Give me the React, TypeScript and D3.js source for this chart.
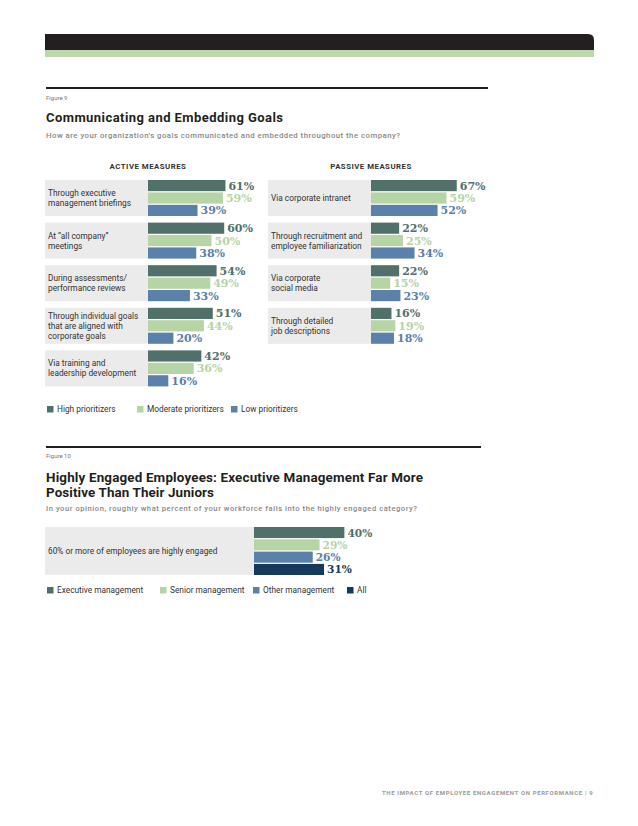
import React from "react";
import * as d3 from "d3";

const activeCategories = [
  ["Through executive", "management briefings"],
  ["At \u201call company\u201d", "meetings"],
  ["During assessments/", "performance reviews"],
  ["Through individual goals", "that are aligned with", "corporate goals"],
  ["Via training and", "leadership development"],
];
const activeHigh = [61, 60, 54, 51, 42];
const activeModerate = [59, 50, 49, 44, 36];
const activeLow = [39, 38, 33, 20, 16];

const passiveCategories = [
  ["Via corporate intranet"],
  ["Through recruitment and", "employee familiarization"],
  ["Via corporate", "social media"],
  ["Through detailed", "job descriptions"],
];
const passiveHigh = [67, 22, 22, 16];
const passiveModerate = [59, 25, 15, 19];
const passiveLow = [52, 34, 23, 18];

const fig9Series = ["High prioritizers", "Moderate prioritizers", "Low prioritizers"];
const fig10Series = ["Executive management", "Senior management", "Other management", "All"];
const fig10Category = "60% or more of employees are highly engaged";
const fig10Values = [40, 29, 26, 31];

const C_DARK = "#51706a";
const C_LIGHT = "#b6d4a6";
const C_BLUE = "#5b80aa";
const C_NAVY = "#15395b";
const PANEL = "#ebebeb";
const SANS = "Roboto, 'Open Sans', sans-serif";
const SERIF = "'DejaVu Serif', serif";

type GroupProps = {
  cats: string[][];
  series: number[][];
  colors: string[];
  panelX: number;
  barX: number;
  top: number;
  step: number;
  pxPer100: number;
};

function GroupedBars({ cats, series, colors, panelX, barX, top, step, pxPer100 }: GroupProps) {
  const panelH = 36;
  const yGroup = d3
    .scaleLinear()
    .domain([0, 1])
    .range([top, top + step]);
  const x = d3.scaleLinear().domain([0, 100]).range([0, pxPer100]);
  const inner = d3
    .scaleBand<number>()
    .domain(d3.range(series.length))
    .range([0, panelH])
    .paddingInner(0.1);
  return (
    <g>
      {cats.map((lines, i) => {
        const y0 = yGroup(i);
        const lh = 10;
        const startY = y0 + panelH / 2 - ((lines.length - 1) * lh) / 2 + 3;
        return (
          <g key={i}>
            <rect x={panelX} y={y0} width={barX - panelX} height={panelH} fill={PANEL} />
            {lines.map((l, j) => (
              <text
                key={j}
                x={panelX + 3}
                y={startY + j * lh}
                fontFamily={SANS}
                fontSize={8.3}
                fill="#333"
              >
                {l}
              </text>
            ))}
            {series.map((s, k) => {
              const by = y0 + (inner(k) as number);
              const w = x(s[i]);
              return (
                <g key={k}>
                  <rect x={barX} y={by} width={w} height={inner.bandwidth()} fill={colors[k]} />
                  <text
                    x={barX + w + 3}
                    y={by + inner.bandwidth() / 2 + 4}
                    fontFamily={SERIF}
                    fontWeight="bold"
                    fontSize={11}
                    fill={colors[k]}
                  >
                    {s[i]}%
                  </text>
                </g>
              );
            })}
          </g>
        );
      })}
    </g>
  );
}

function Legend({ items, colors, xs, y }: { items: string[]; colors: string[]; xs: number[]; y: number }) {
  return (
    <g>
      {items.map((t, i) => (
        <g key={i}>
          <rect x={xs[i]} y={y - 6} width={6.5} height={6.5} fill={colors[i]} />
          <text x={xs[i] + 10} y={y} fontFamily={SANS} fontSize={8.3} fill="#333">
            {t}
          </text>
        </g>
      ))}
    </g>
  );
}

export default function App() {
  const W = 638;
  const H = 826;
  const f10x = d3.scaleLinear().domain([0, 100]).range([0, 226]);
  const f10inner = d3
    .scaleBand<number>()
    .domain(d3.range(fig10Values.length))
    .range([527, 575])
    .paddingInner(0.1);
  const f10colors = [C_DARK, C_LIGHT, C_BLUE, C_NAVY];
  return (
    <svg
      width={W}
      height={H}
      style={{ position: "absolute", left: 0, top: 0, background: "#fff" }}
    >
      {/* header band */}
      <path d="M45,34 H588 Q594,34 594,40 V50 H45 Z" fill="#231f20" />
      <rect x={45} y={50} width={549} height={7} fill="#bdd9a9" />

      {/* Figure 9 */}
      <rect x={46} y={87} width={442} height={2} fill="#231f20" />
      <text x={46} y={100} fontFamily={SANS} fontSize={6} fill="#777">
        Figure 9
      </text>
      <text x={46} y={122} fontFamily={SANS} fontWeight="bold" fontSize={13} fill="#231f20" textLength={237}>
        Communicating and Embedding Goals
      </text>
      <text x={46} y={138} fontFamily={SANS} fontWeight="500" fontSize={7.8} fill="#888" textLength={354}>
        How are your organization’s goals communicated and embedded throughout the company?
      </text>

      <text x={148} y={169} textAnchor="middle" fontFamily={SANS} fontWeight="bold" fontSize={7.8} letterSpacing={0.5} fill="#333">
        ACTIVE MEASURES
      </text>
      <text x={371} y={169} textAnchor="middle" fontFamily={SANS} fontWeight="bold" fontSize={7.8} letterSpacing={0.5} fill="#333">
        PASSIVE MEASURES
      </text>

      <GroupedBars
        cats={activeCategories}
        series={[activeHigh, activeModerate, activeLow]}
        colors={[C_DARK, C_LIGHT, C_BLUE]}
        panelX={45}
        barX={148}
        top={180}
        step={42.6}
        pxPer100={127}
      />
      <GroupedBars
        cats={passiveCategories}
        series={[passiveHigh, passiveModerate, passiveLow]}
        colors={[C_DARK, C_LIGHT, C_BLUE]}
        panelX={268}
        barX={371}
        top={180}
        step={42.6}
        pxPer100={128}
      />

      <Legend items={fig9Series} colors={[C_DARK, C_LIGHT, C_BLUE]} xs={[47, 137, 231]} y={412} />

      {/* Figure 10 */}
      <rect x={46} y={446} width={435} height={2} fill="#231f20" />
      <text x={46} y={458} fontFamily={SANS} fontSize={6} fill="#777">
        Figure 10
      </text>
      <text x={46} y={482} fontFamily={SANS} fontWeight="bold" fontSize={13.4} fill="#231f20" textLength={377}>
        Highly Engaged Employees: Executive Management Far More
      </text>
      <text x={46} y={497} fontFamily={SANS} fontWeight="bold" fontSize={13.4} fill="#231f20" textLength={168}>
        Positive Than Their Juniors
      </text>
      <text x={46} y={511} fontFamily={SANS} fontWeight="500" fontSize={7.6} fill="#888" textLength={371}>
        In your opinion, roughly what percent of your workforce falls into the highly engaged category?
      </text>

      <rect x={45} y={527} width={209} height={48} fill={PANEL} />
      <text x={48} y={554} fontFamily={SANS} fontSize={8.3} fill="#333">
        {fig10Category}
      </text>
      {fig10Values.map((v, k) => {
        const by = f10inner(k) as number;
        const w = f10x(v);
        return (
          <g key={k}>
            <rect x={254} y={by} width={w} height={f10inner.bandwidth()} fill={f10colors[k]} />
            <text
              x={254 + w + 3}
              y={by + f10inner.bandwidth() / 2 + 4}
              fontFamily={SERIF}
              fontWeight="bold"
              fontSize={10.6}
              fill={f10colors[k]}
            >
              {v}%
            </text>
          </g>
        );
      })}

      <Legend items={fig10Series} colors={f10colors} xs={[47, 160, 253, 347]} y={593} />

      <text x={382} y={795} fontFamily={SANS} fontWeight="bold" fontSize={6} letterSpacing={0.4} fill="#999" textLength={211}>
        THE IMPACT OF EMPLOYEE ENGAGEMENT ON PERFORMANCE  |  9
      </text>
    </svg>
  );
}
